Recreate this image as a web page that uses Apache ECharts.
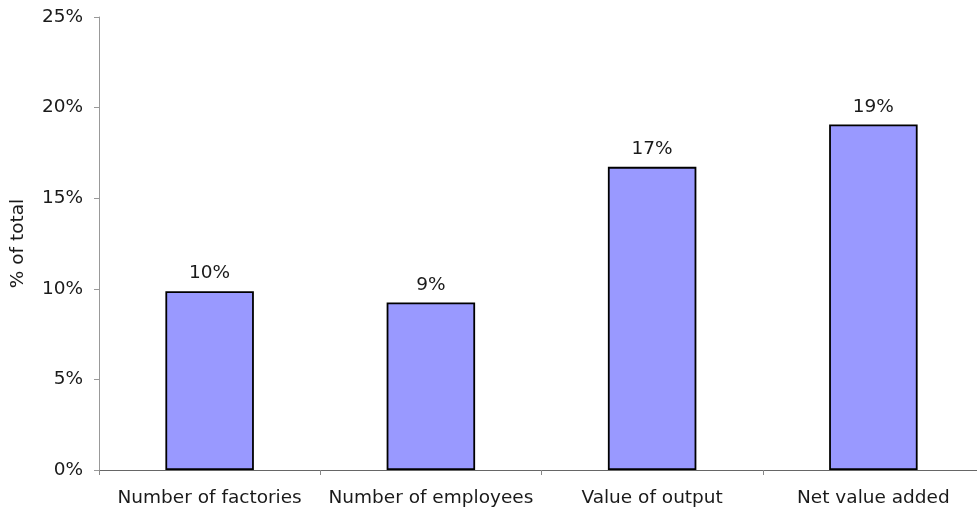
<!DOCTYPE html>
<html>
<head>
<meta charset="utf-8">
<script src="https://cdn.jsdelivr.net/npm/echarts@6/dist/echarts.min.js"></script>
<style>
  html, body { margin: 0; padding: 0; background: #fff; overflow: hidden; }
  #chart { width: 985px; height: 513px; }
</style>
</head>
<body>
<div id="chart"></div>
<script>
// Share of total, by measure (percent)
const categories = ['Number of factories', 'Number of employees', 'Value of output', 'Net value added'];
const shares = [9.87, 9.25, 16.73, 19.07];
const yTicks = [0, 5, 10, 15, 20, 25];

const font = 'DejaVu Sans, Verdana, sans-serif';
const chart = echarts.init(document.getElementById('chart'));
chart.setOption({
  animation: false,
  grid: { left: 99, top: 17, right: 1, bottom: 43, containLabel: false },
  xAxis: {
    type: 'category',
    data: categories,
    axisLine: { lineStyle: { color: '#666', width: 1 } },
    axisTick: { show: true, alignWithLabel: false, length: 5, lineStyle: { color: '#888' } },
    axisLabel: { color: '#1a1a1a', fontFamily: font, fontSize: 18.5, margin: 19, interval: 0 },
    splitLine: { show: false }
  },
  yAxis: {
    type: 'value',
    min: yTicks[0],
    max: yTicks[yTicks.length - 1],
    interval: 5,
    name: '% of total',
    nameLocation: 'middle',
    nameGap: 71,
    nameTextStyle: { color: '#1a1a1a', fontFamily: font, fontSize: 18.5 },
    axisLine: { show: true, lineStyle: { color: '#999', width: 1 } },
    axisTick: { show: true, length: 5, lineStyle: { color: '#999' } },
    axisLabel: { color: '#1a1a1a', fontFamily: font, fontSize: 18.5, margin: 16, formatter: v => v + '%' },
    splitLine: { show: false }
  },
  series: [{
    type: 'bar',
    data: shares,
    barWidth: '40%',
    itemStyle: { color: '#9999FF', borderColor: '#000', borderWidth: 1.8 },
    label: {
      show: true,
      position: 'top',
      distance: 8,
      color: '#1a1a1a',
      fontFamily: font,
      fontSize: 18.5,
      formatter: p => Math.round(p.value) + '%'
    }
  }]
});
</script>
</body>
</html>
